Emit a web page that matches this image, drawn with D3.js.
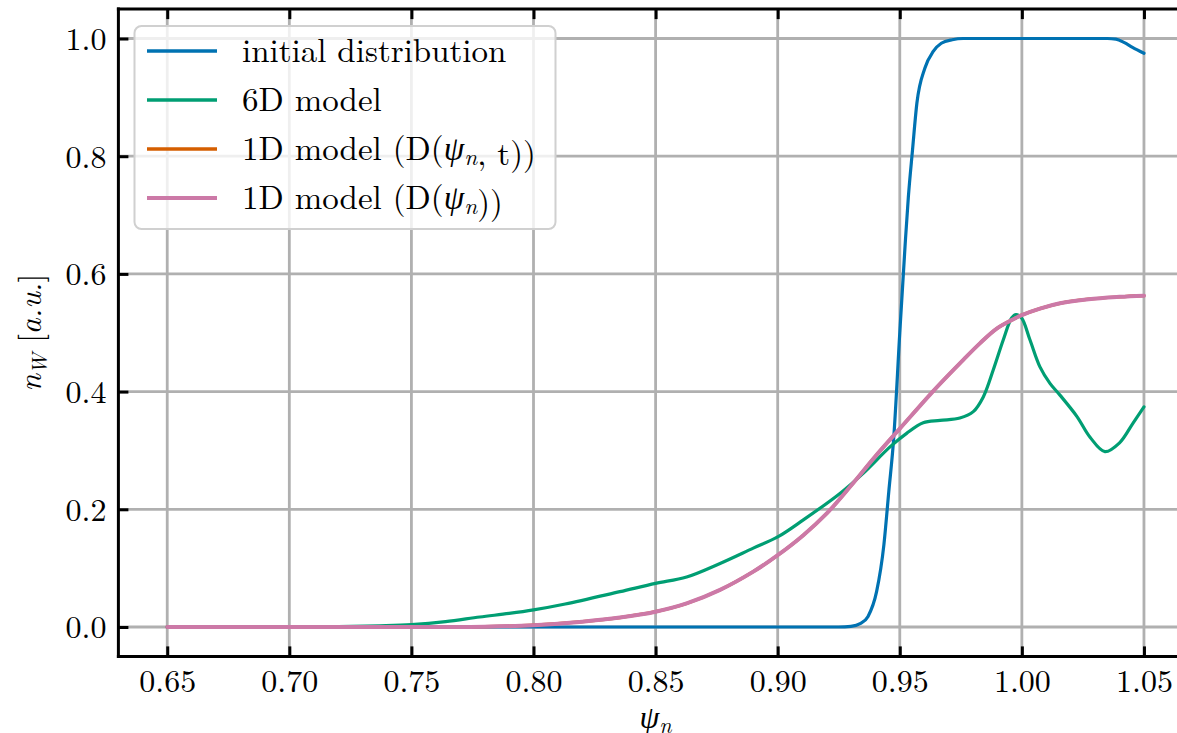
<!DOCTYPE html>
<html>
<head>
<meta charset="utf-8">
<script src="https://cdn.jsdelivr.net/npm/d3@7"></script>
<style>
  html, body { margin: 0; padding: 0; background: #fff; }
  svg { display: block; }
</style>
</head>
<body>
<svg id="chart" width="1177" height="733"></svg>
<script>
// ---- data ----
const seriesNames = ["initial distribution", "6D model", "1D model (D(ψ_n, t))", "1D model (D(ψ_n))"];
const seriesColors = ["#0072B2", "#009E73", "#D55E00", "#CC79A7"];

const initialX = [0.65, 0.80, 0.90, 0.925, 0.930, 0.934, 0.937, 0.9405, 0.9435, 0.9455, 0.9475, 0.950, 0.9522, 0.9535, 0.9552, 0.957, 0.9603, 0.9637, 0.967, 0.9715, 0.976, 1.00, 1.035, 1.0385, 1.042, 1.0453, 1.05];
const initialY = [0, 0, 0, 0, 0.001, 0.006, 0.018, 0.06, 0.14, 0.23, 0.32, 0.50, 0.65, 0.73, 0.81, 0.89, 0.95, 0.978, 0.992, 0.998, 1.0, 1.0, 1.0, 0.999, 0.993, 0.985, 0.975];

const model6dX = [0.65, 0.70, 0.72, 0.737, 0.75, 0.764, 0.778, 0.79, 0.80, 0.813, 0.8354, 0.85, 0.8627, 0.8764, 0.89, 0.90, 0.9105, 0.9255, 0.935, 0.946, 0.9528, 0.9596, 0.9665, 0.9746, 0.9801, 0.9842, 0.9883, 0.9924, 0.9958, 0.9976, 0.9999, 1.0033, 1.0074, 1.0115, 1.0156, 1.0225, 1.028, 1.034, 1.040, 1.0456, 1.05];
const model6dY = [0, 0, 0.0005, 0.002, 0.004, 0.009, 0.017, 0.023, 0.029, 0.039, 0.060, 0.074, 0.085, 0.108, 0.134, 0.153, 0.182, 0.227, 0.261, 0.306, 0.329, 0.347, 0.351, 0.355, 0.366, 0.391, 0.437, 0.488, 0.525, 0.531, 0.525, 0.488, 0.442, 0.414, 0.394, 0.358, 0.322, 0.298, 0.313, 0.347, 0.374];

const model1dX = [0.65, 0.75, 0.78, 0.80, 0.82, 0.8354, 0.85, 0.8627, 0.8764, 0.89, 0.90, 0.9105, 0.9201, 0.93, 0.94, 0.95, 0.9624, 0.9692, 0.976, 0.9828, 0.9897, 0.9965, 1.00, 1.0074, 1.0156, 1.0273, 1.04, 1.05];
const model1dTY = [0, 0, 0.0005, 0.003, 0.009, 0.016, 0.026, 0.040, 0.063, 0.094, 0.122, 0.156, 0.193, 0.240, 0.290, 0.337, 0.395, 0.425, 0.454, 0.482, 0.507, 0.523, 0.530, 0.541, 0.550, 0.557, 0.561, 0.563];
const model1dY  = [0, 0, 0.0005, 0.003, 0.009, 0.016, 0.026, 0.040, 0.063, 0.094, 0.122, 0.156, 0.193, 0.240, 0.290, 0.337, 0.395, 0.425, 0.454, 0.482, 0.507, 0.523, 0.530, 0.541, 0.550, 0.557, 0.561, 0.563];

const xTicks = [0.65, 0.70, 0.75, 0.80, 0.85, 0.90, 0.95, 1.00, 1.05];
const yTicks = [0.0, 0.2, 0.4, 0.6, 0.8, 1.0];

// ---- layout ----
const FONT = '"Latin Modern Roman", "Liberation Serif", serif';
const FS = 32;
const svg = d3.select("#chart");
const L = 118.4, R = 1192.8, T = 9.1, B = 656.4;
const x = d3.scaleLinear().domain([0.63, 1.07]).range([L, R]);
const y = d3.scaleLinear().domain([-0.05, 1.05]).range([B, T]);

svg.append("defs").append("clipPath").attr("id", "clip")
  .append("rect").attr("x", L).attr("y", T).attr("width", R - L).attr("height", B - T);

// grid
const grid = svg.append("g");
grid.selectAll(".vg").data(xTicks).enter().append("line")
  .attr("x1", d => x(d)).attr("x2", d => x(d)).attr("y1", T).attr("y2", B)
  .attr("stroke", "#b0b0b0").attr("stroke-width", 2.8);
grid.selectAll(".hg").data(yTicks).enter().append("line")
  .attr("x1", L).attr("x2", R).attr("y1", d => y(d)).attr("y2", d => y(d))
  .attr("stroke", "#b0b0b0").attr("stroke-width", 2.8);

// lines
const series = [
  {xs: initialX, ys: initialY, w: 3.2, c: d3.curveMonotoneX},
  {xs: model6dX, ys: model6dY, w: 3.2, c: d3.curveCatmullRom.alpha(0.5)},
  {xs: model1dX, ys: model1dTY, w: 3.2, c: d3.curveCatmullRom.alpha(0.5)},
  {xs: model1dX, ys: model1dY, w: 4, c: d3.curveCatmullRom.alpha(0.5)}
];
const plot = svg.append("g").attr("clip-path", "url(#clip)");
series.forEach((s, i) => {
  const line = d3.line().x(d => x(d[0])).y(d => y(d[1])).curve(s.c);
  plot.append("path")
    .datum(s.xs.map((v, k) => [v, s.ys[k]]))
    .attr("d", line)
    .attr("fill", "none")
    .attr("stroke", seriesColors[i])
    .attr("stroke-width", s.w)
    .attr("stroke-linejoin", "round")
    .attr("stroke-linecap", "round");
});

// axes (ticks inward)
const xAxis = svg.append("g").attr("transform", `translate(0,${B})`)
  .call(d3.axisBottom(x).tickValues(xTicks).tickFormat(d3.format(".2f")).tickSize(-10));
const xAxisTop = svg.append("g").attr("transform", `translate(0,${T})`)
  .call(d3.axisTop(x).tickValues(xTicks).tickFormat("").tickSize(-10));
const yAxis = svg.append("g").attr("transform", `translate(${L},0)`)
  .call(d3.axisLeft(y).tickValues(yTicks).tickFormat(d3.format(".1f")).tickSize(-10));

[xAxis, xAxisTop, yAxis].forEach(g => {
  g.attr("font-family", null).attr("font-size", null);
  g.select(".domain").remove();
  g.selectAll(".tick line").attr("stroke", "#000").attr("stroke-width", 3);
  g.selectAll(".tick text").style("font-family", FONT).style("font-size", FS + "px").attr("fill", "#000");
});
xAxis.selectAll(".tick text").attr("y", 35.5).attr("dy", null);
yAxis.selectAll(".tick text").attr("x", -12).attr("dy", null).attr("y", 11);

// spines
svg.append("g").selectAll("line").data([
  [L, T, L, B], [L, B, R, B], [L, T, R, T], [R, T, R, B]
]).enter().append("line")
  .attr("x1", d => d[0]).attr("y1", d => d[1]).attr("x2", d => d[2]).attr("y2", d => d[3])
  .attr("stroke", "#000").attr("stroke-width", 3).attr("stroke-linecap", "square");

// rich text helper: renders ψ_n as italic psi with subscript n
function richText(sel, str) {
  const parts = str.split("ψ_n");
  parts.forEach((p, i) => {
    if (p.length) sel.append("tspan").text(p);
    if (i < parts.length - 1) {
      sel.append("tspan").attr("font-style", "italic").text("ψ");
      sel.append("tspan").attr("font-style", "italic").attr("font-size", "0.7em").attr("dy", "0.2em").text("n");
      sel.append("tspan").attr("dy", "-0.2em").text("");
    }
  });
}

// legend
const lg = svg.append("g");
lg.append("rect").attr("x", 134.5).attr("y", 26).attr("width", 421).attr("height", 203)
  .attr("rx", 7).attr("fill", "#fff").attr("fill-opacity", 0.8)
  .attr("stroke", "#d0d0d0").attr("stroke-width", 2);
seriesNames.forEach((name, i) => {
  const cy = 51 + i * 49;
  lg.append("line").attr("x1", 147).attr("x2", 217).attr("y1", cy).attr("y2", cy)
    .attr("stroke", seriesColors[i]).attr("stroke-width", i === 3 ? 4 : 3.4);
  const t = lg.append("text").attr("x", 242).attr("y", cy + 11)
    .style("font-family", FONT).style("font-size", "33px");
  richText(t, name);
});

// axis labels
const xl = svg.append("text").attr("x", (L + R) / 2).attr("y", 728).attr("text-anchor", "middle")
  .style("font-family", FONT).style("font-size", "32px");
xl.append("tspan").attr("font-style", "italic").text("ψ");
xl.append("tspan").attr("font-style", "italic").attr("font-size", "22px").attr("dy", "5").text("n");

const yl = svg.append("text").attr("transform", `translate(41,${(T + B) / 2}) rotate(-90)`)
  .attr("text-anchor", "middle").style("font-family", FONT).style("font-size", "31px");
yl.append("tspan").attr("font-style", "italic").text("n");
yl.append("tspan").attr("font-style", "italic").attr("font-size", "21px").attr("dy", "6").text("W");
yl.append("tspan").attr("dy", "-6").text(" ");
yl.append("tspan").text("[");
yl.append("tspan").attr("font-style", "italic").text("a.u.");
yl.append("tspan").text("]");
</script>
</body>
</html>
